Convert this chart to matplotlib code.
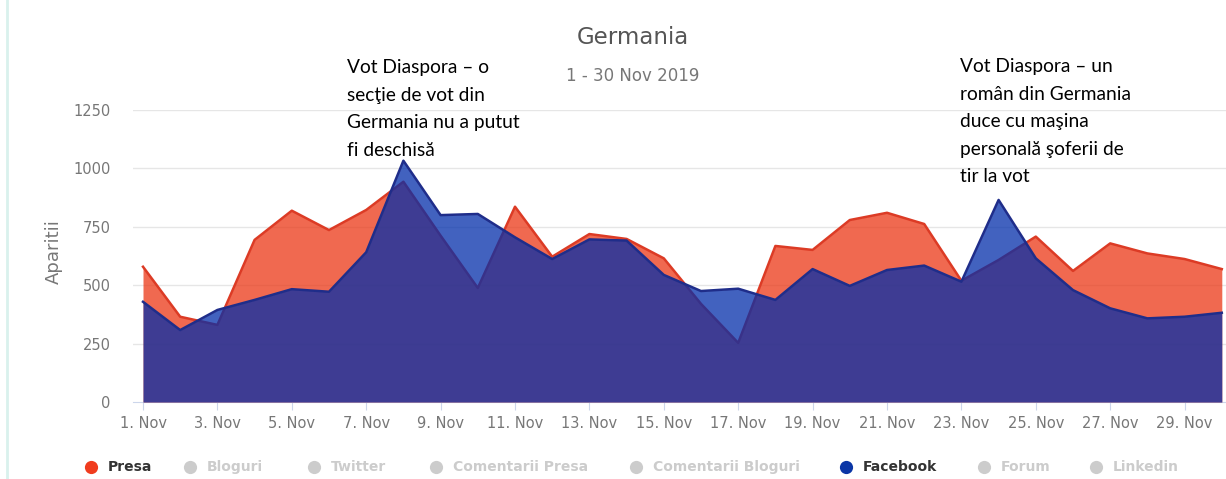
import matplotlib
matplotlib.use("Agg")
import matplotlib.pyplot as plt
from matplotlib.lines import Line2D

# ---------------- data ----------------
days = list(range(1, 31))
presa = [579, 365, 330, 694, 819, 736, 822, 943, 712, 488, 836, 622, 719, 698, 615,
         420, 253, 668, 651, 779, 810, 762, 519, 608, 708, 561, 679, 636, 612, 569]
facebook = [429, 308, 394, 437, 483, 472, 641, 1033, 800, 805, 705, 612, 696, 691, 544,
            475, 485, 437, 569, 497, 565, 584, 515, 865, 615, 479, 401, 358, 365, 382]
tick_days = list(range(1, 30, 2))
tick_labels = [f"{d}. Nov" for d in tick_days]
y_ticks = [0, 250, 500, 750, 1000, 1250]
legend_names = ["Presa", "Bloguri", "Twitter", "Comentarii Presa", "Comentarii Bloguri",
                "Facebook", "Forum", "Linkedin"]
legend_active = [True, False, False, False, False, True, False, False]
title = "Germania"
subtitle = "1 - 30 Nov 2019"
ylabel = "Aparitii"
note_left = ["Vot Diaspora \u2013 o", "sec\u0163ie de vot din", "Germania nu a putut", "fi deschis\u0103"]
note_right = ["Vot Diaspora \u2013 un", "rom\u00e2n din Germania", "duce cu ma\u015fina",
              "personal\u0103 \u015foferii de", "tir la vot"]

# ---------------- style ----------------
W, H = 1226, 479
C_PRESA = "#eb3716"
C_FB = "#022eaa"
C_PRESA_LINE = "#dc3b25"
C_FB_LINE = "#1f2d8a"
C_PRESA_MK = "#f03c1e"
C_FB_MK = "#0b36a6"

fig = plt.figure(figsize=(W / 100, H / 100), dpi=100)

def fx(px):
    return px / W

def fy(py):
    return 1 - py / H

ax_left, ax_right, ax_top, ax_bottom = 133, 1226, 110, 402
ax = fig.add_axes([fx(ax_left), fy(ax_bottom), fx(ax_right - ax_left), (ax_bottom - ax_top) / H])

# x scale: day 1 at px 143, 37.2 px/day
px_per_day = 37.2
x0 = 1 - (143 - ax_left) / px_per_day
x1 = 1 + (ax_right - 143) / px_per_day
ax.set_xlim(x0, x1)
ax.set_ylim(0, 1250)

for v in y_ticks:
    if v > 0:
        ax.axhline(v, color="#e6e6e6", lw=1, zorder=0)

ax.fill_between(days, presa, 0, color=C_PRESA, alpha=0.75, lw=0, zorder=2)
ax.plot(days, presa, color=C_PRESA_LINE, lw=1.8, zorder=3, solid_joinstyle="round")
ax.fill_between(days, facebook, 0, color=C_FB, alpha=0.75, lw=0, zorder=4)
ax.plot(days, facebook, color=C_FB_LINE, lw=1.8, zorder=5, solid_joinstyle="round")

for s in ["left", "right", "top"]:
    ax.spines[s].set_visible(False)
ax.spines["bottom"].set_color("#ccd6eb")
ax.spines["bottom"].set_zorder(1)

ax.set_xticks(tick_days)
ax.set_xticklabels(tick_labels)
ax.set_yticks(y_ticks)
ax.set_yticklabels([str(v) for v in y_ticks])
ax.tick_params(axis="x", length=6, color="#ccd6eb", labelcolor="#777777", labelsize=10.5, pad=4)
ax.tick_params(axis="y", length=0, labelcolor="#777777", labelsize=10.5, pad=16)
ax.set_facecolor("white")

# titles
fig.text(fx(633), fy(37), title, ha="center", va="center", fontsize=16.5, color="#555555")
fig.text(fx(633), fy(76), subtitle, ha="center", va="center", fontsize=12, color="#777777")
fig.text(fx(54), fy(252), ylabel, ha="center", va="center", rotation=90, fontsize=13, color="#777777")

# annotations
for i, line in enumerate(note_left):
    fig.text(fx(347), fy(73 + i * 27.5), line, ha="left", va="baseline",
             fontsize=13.8, family="Lato", color="#000000")
for i, line in enumerate(note_right):
    fig.text(fx(960), fy(72 + i * 27.6), line, ha="left", va="baseline",
             fontsize=13.8, family="Lato", color="#000000")

# legend
leg_marker_x = [91, 190, 314, 436, 636, 846, 984, 1096]
leg_y = 467
for name, act, mx in zip(legend_names, legend_active, leg_marker_x):
    if act:
        mcol = C_PRESA_MK if name == "Presa" else C_FB_MK
        tcol = "#333333"
    else:
        mcol = "#cccccc"
        tcol = "#cccccc"
    fig.add_artist(Line2D([fx(mx)], [fy(leg_y)], marker="o", markersize=9.5,
                          color=mcol, markeredgewidth=0, transform=fig.transFigure))
    fig.text(fx(mx + 17), fy(leg_y), name, ha="left", va="center", fontsize=10,
             fontweight="bold", color=tcol)

# left border line
fig.add_artist(Line2D([fx(7), fx(7)], [0, 1], color="#d9f1ed", lw=2, transform=fig.transFigure))

fig.savefig("out.png", dpi=100)
